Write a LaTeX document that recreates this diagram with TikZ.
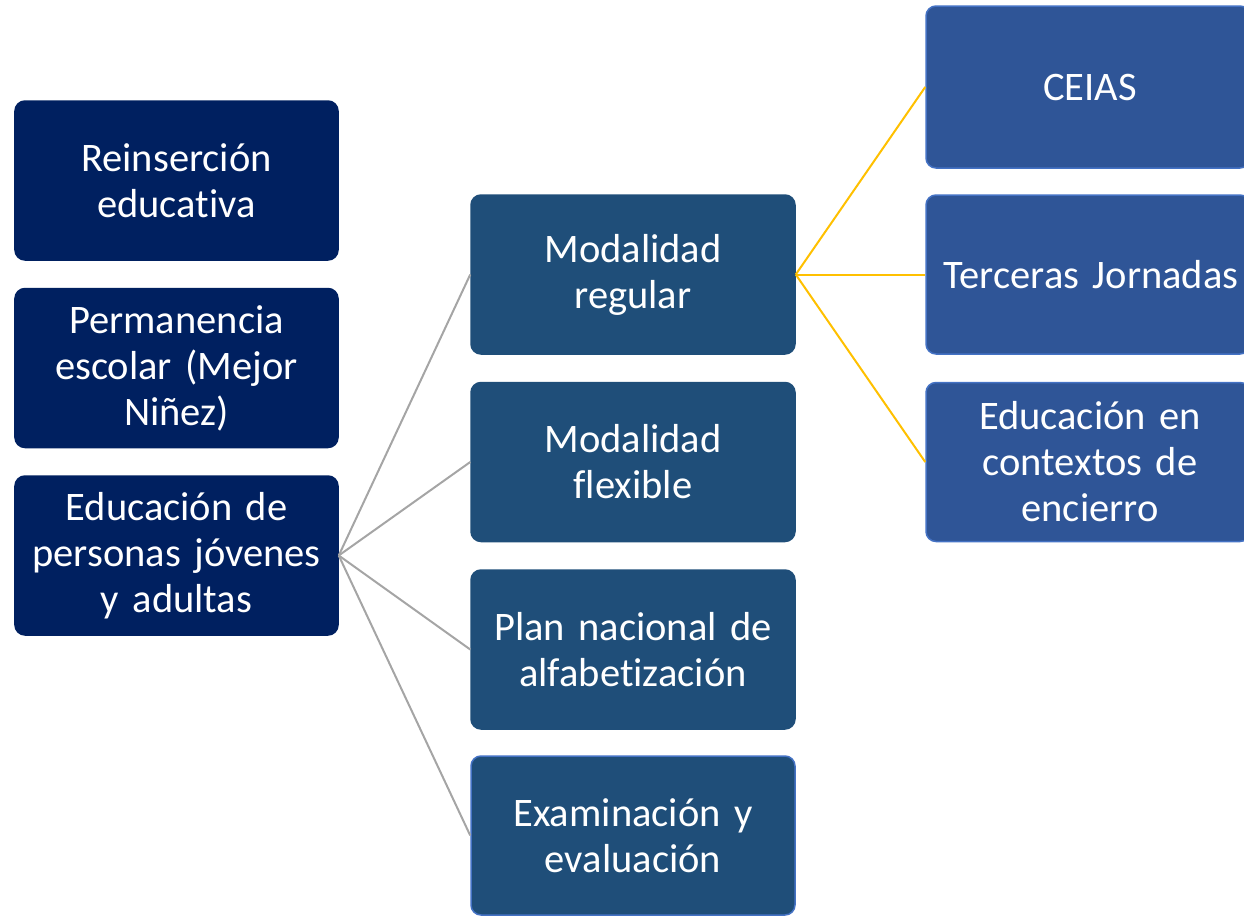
\documentclass[tikz,border=0pt]{standalone}
\usepackage{fontspec}
\setmainfont{Carlito}[Ligatures=NoCommon]
\begin{document}
\begin{tikzpicture}[x=1bp,y=-1bp,
  box/.style={rectangle,rounded corners=10bp,text=white,align=center,
    font=\fontsize{40.5bp}{46bp}\selectfont,inner sep=0pt,line width=1.5bp},
  leftbox/.style={box,fill=lnavy,draw=lnavy,minimum width=323bp,minimum height=159bp,text width=320bp},
  midbox/.style={box,fill=mblue,draw=mblue,minimum width=324bp,minimum height=159bp,text width=320bp},
  rightbox/.style={box,fill=rblue,draw=rborder,minimum width=324bp,minimum height=159bp,text width=320bp},
  grayline/.style={draw=lgray,line width=2bp},
  yelline/.style={draw=lyellow,line width=2bp}]
\definecolor{lnavy}{HTML}{002060}
\definecolor{mblue}{HTML}{1F4E79}
\definecolor{rblue}{HTML}{2F5597}
\definecolor{rborder}{HTML}{4472C4}
\definecolor{lgray}{HTML}{A5A5A5}
\definecolor{lyellow}{HTML}{FFC000}
\useasboundingbox (0,0) rectangle (1244,916);
\clip (0,0) rectangle (1244,916);
\node[leftbox] (l1) at (176.5,180.5) {Reinserción\\educativa};
\node[leftbox] (l2) at (176.5,368) {Permanencia\\escolar (Mejor\\Niñez)};
\node[leftbox] (l3) at (176.5,555.5) {Educación de\\personas jóvenes\\y adultas};
\node[midbox] (m1) at (633,274.5) {Modalidad\\regular};
\node[midbox] (m2) at (633,462) {Modalidad\\flexible};
\node[midbox] (m3) at (633,649.5) {Plan nacional de\\alfabetización};
\node[midbox,draw=rborder] (m4) at (633,835.5) {Examinación y\\evaluación};
\node[rightbox,minimum height=162bp] (r1) at (1088,87) {\hspace*{4bp}CEIAS};
\node[rightbox] (r2) at (1088,274.5) {\hspace*{6bp}\makebox[0pt]{Terceras Jornadas}};
\node[rightbox] (r3) at (1088,462) {\hspace*{4bp}Educación en\\\hspace*{4bp}contextos de\\\hspace*{4bp}encierro};
\foreach \m in {m1,m2,m3,m4} \draw[grayline] (l3.east) -- (\m.west);
\foreach \r in {r1,r2,r3} \draw[yelline] (m1.east) -- (\r.west);
\end{tikzpicture}
\end{document}
